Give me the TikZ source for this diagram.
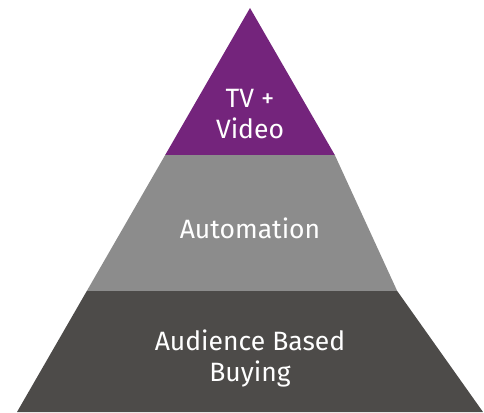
\documentclass[tikz,border=0pt]{standalone}
\usepackage{fontspec}
\setmainfont{Fira Sans}
\definecolor{tierpurple}{RGB}{116,36,124}
\definecolor{tiergray}{RGB}{140,140,140}
\definecolor{tierdark}{RGB}{77,75,73}
\begin{document}
\begin{tikzpicture}[x=1pt,y=1pt]

\tikzset{tier/.style={line width=0,draw=none},
tierlabel/.style={text=white, align=center, font=\fontsize{26.5}{31}\selectfont, inner sep=0pt}}

\useasboundingbox (0,0) rectangle (484,412);

\coordinate (apex) at (250,404);
\coordinate (bl) at (17,0);
\coordinate (br) at (483,0);

% bands
\fill [tierdark] (bl) -- (br) -- (397.2,121) -- (86.8,121) -- cycle;
\fill [tiergray] (86.8,121) -- (397.2,121) -- (334.8,257) -- (165.2,257) -- cycle;
\fill [tierpurple] (165.2,257) -- (334.8,257) -- (apex) -- cycle;

\node [tierlabel] (video) at (250,298) {TV +\\Video};
\node [tierlabel] (automation) at (250,184) {Automation};
\node [tierlabel] (audience) at (250,54) {Audience Based\\Buying};

\end{tikzpicture}
\end{document}
